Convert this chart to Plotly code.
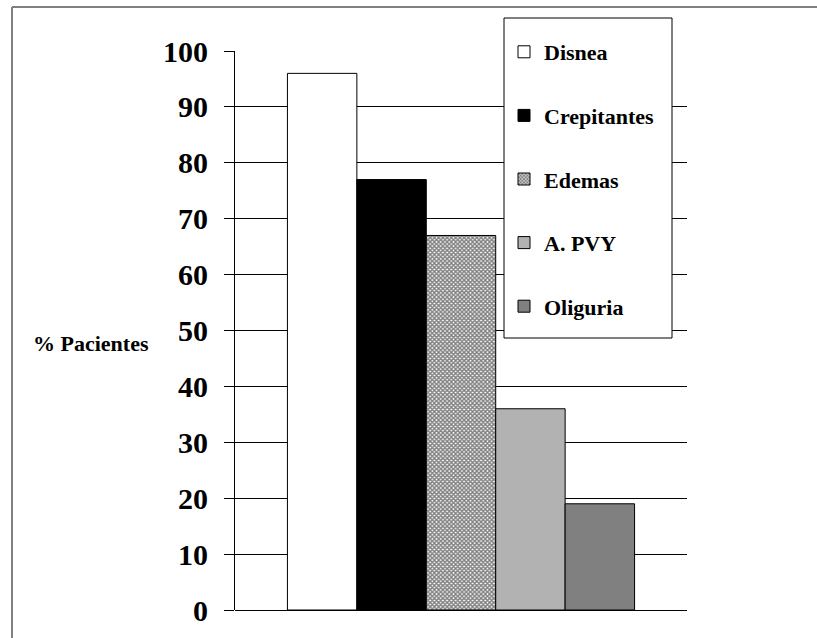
import plotly.graph_objects as go

# Symptom frequencies (% of patients)
series_names = ["Disnea", "Crepitantes", "Edemas", "A. PVY", "Oliguria"]
series_values = [96, 77, 67, 36, 19]
fill_colors = ["#ffffff", "#000000", "#ffffff", "#b2b2b2", "#808080"]
category = [""]
y_ticks = [0, 10, 20, 30, 40, 50, 60, 70, 80, 90, 100]

W, H = 817, 638
L, R, T, B = 235, 130, 51, 28
PW, PH = W - L - R, H - T - B
SERIF = "Liberation Serif"


def px_x(x):
    return (x - L) / PW


def px_y(y):
    return (H - B - y) / PH


fig = go.Figure()
for name, val, col in zip(series_names, series_values, fill_colors):
    marker = dict(color=col, line=dict(color="#000000", width=1))
    if name == "Edemas":
        marker["pattern"] = dict(shape="x", fgcolor="#000000", bgcolor="#ffffff",
                                 size=3, solidity=0.7, fillmode="overlay")
    fig.add_trace(go.Bar(x=category, y=[val], name=name, marker=marker,
                         legendgroup=name, hoverinfo="skip"))

fig.update_layout(
    width=W, height=H,
    margin=dict(l=L, r=R, t=T, b=B, pad=0),
    paper_bgcolor="#ffffff", plot_bgcolor="#ffffff",
    barmode="group", bargap=0.232, bargroupgap=0,
    font=dict(family=SERIF, color="#000000"),
    showlegend=True,
    legend=dict(
        x=px_x(504), y=px_y(31),
        xanchor="left", yanchor="top",
        bgcolor="rgba(0,0,0,0)", borderwidth=0,
        font=dict(family=SERIF, size=22, color="#000000", weight="bold"),
        tracegroupgap=32, traceorder="grouped",
        itemwidth=30,
    ),
    xaxis=dict(showticklabels=False, showgrid=False, zeroline=False,
               showline=False, ticks="", range=[-0.5, 0.5], fixedrange=True),
    yaxis=dict(range=[0, 100], tickvals=y_ticks, ticktext=[str(v) for v in y_ticks],
               showgrid=True, gridcolor="#000000", gridwidth=1,
               zeroline=True, zerolinecolor="#000000", zerolinewidth=1,
               showline=True, linecolor="#000000", linewidth=1,
               ticks="outside", ticklen=10, tickcolor="#000000", tickwidth=1,
               ticklabelstandoff=10,
               tickfont=dict(family=SERIF, size=30, color="#000000", weight="bold"),
               fixedrange=True),
)

# Legend frame: white box over the grid, legend entries drawn on top
fig.add_shape(type="rect", xref="paper", yref="paper",
              x0=px_x(504), x1=px_x(672), y0=px_y(338), y1=px_y(18),
              fillcolor="#ffffff", line=dict(color="#000000", width=1), layer="above")

# Axis title drawn horizontally beside the value axis
fig.add_annotation(text="% Pacientes", xref="paper", yref="paper",
                   x=px_x(91), y=px_y(343),
                   xanchor="center", yanchor="middle", showarrow=False,
                   font=dict(family=SERIF, size=22, color="#000000", weight="bold"))

# Outer frame around the chart
fig.add_shape(type="line", xref="paper", yref="paper",
              x0=px_x(12), x1=px_x(12), y0=px_y(7), y1=px_y(H),
              line=dict(color="#808080", width=2))
fig.add_shape(type="line", xref="paper", yref="paper",
              x0=px_x(12), x1=px_x(W), y0=px_y(7), y1=px_y(7),
              line=dict(color="#808080", width=2))

fig.write_html("out.html")
